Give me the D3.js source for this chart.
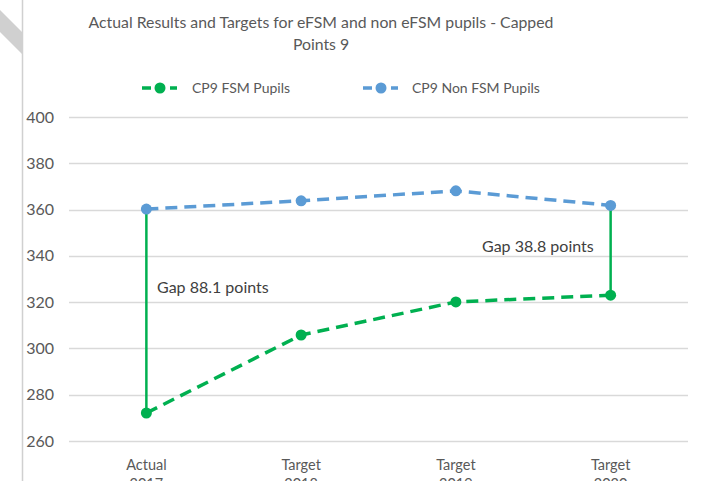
<!DOCTYPE html>
<html><head><meta charset="utf-8">
<script src="https://cdn.jsdelivr.net/npm/d3@7"></script>
<style>body{margin:0;background:#fff;}svg{display:block;font-family:Lato,"Open Sans",sans-serif;}</style>
</head><body><svg id="c" width="711" height="481"></svg>
<script>
const categories = [["Actual","2017"],["Target","2018"],["Target","2019"],["Target","2020"]];
const fsm = [272.1, 305.8, 320.1, 323.0];
const nonFsm = [360.2, 363.8, 368.1, 361.8];
const yTicks = [260,280,300,320,340,360,380,400];
const seriesNames = ["CP9 FSM Pupils","CP9 Non FSM Pupils"];
const gaps = [{i:0, label:"Gap 88.1 points"},{i:3, label:"Gap 38.8 points"}];
const colors = ["#00B050","#5B9BD5"];

const svg = d3.select("#c");
const W = 711, H = 481;
const m = {left:69, right:688, top:117, bottom:441};

// decorative frame
svg.append("polygon").attr("points","0,10 22,32 22,54 0,32").attr("fill","#d0d0d0");
svg.append("line").attr("x1",22.5).attr("x2",22.5).attr("y1",0).attr("y2",H).attr("stroke","#d0d0d0").attr("stroke-width",1.5);

const x = d3.scaleBand().domain(d3.range(categories.length)).range([m.left,m.right]);
const y = d3.scaleLinear().domain([260,400]).range([m.bottom,m.top]);
const cx = i => x(i) + x.bandwidth()/2;

// gridlines
svg.append("g").selectAll("line").data(yTicks).join("line")
  .attr("x1",m.left).attr("x2",m.right)
  .attr("y1",d=>Math.round(y(d))+0.5).attr("y2",d=>Math.round(y(d))+0.5)
  .attr("stroke","#d9d9d9").attr("stroke-width",1.3);

// y axis labels
const yAxis = d3.axisLeft(y).tickValues(yTicks).tickSize(0).tickPadding(0);
const ga = svg.append("g").attr("transform",`translate(${m.left-15},0)`).call(yAxis);
ga.select(".domain").remove();
ga.selectAll("text").attr("fill","#595959").style("font-size","16px").style("font-family","Lato,sans-serif");

// x labels
const xl = svg.append("g").selectAll("text").data(categories).join("text")
  .attr("x",(d,i)=>cx(i)).attr("y",470).attr("text-anchor","middle")
  .attr("fill","#595959").style("font-size","14.5px");
xl.each(function(d){
  const t = d3.select(this);
  t.append("tspan").attr("x",t.attr("x")).attr("dy",0).text(d[0]);
  t.append("tspan").attr("x",t.attr("x")).attr("dy",19).text(d[1]);
});

// gap lines
svg.append("g").selectAll("line").data(gaps).join("line")
  .attr("x1",d=>cx(d.i)).attr("x2",d=>cx(d.i))
  .attr("y1",d=>y(nonFsm[d.i])).attr("y2",d=>y(fsm[d.i]))
  .attr("stroke","#00B050").attr("stroke-width",2.5);

// series lines
const line = d3.line().x((d,i)=>cx(i)).y(d=>y(d));
[fsm, nonFsm].forEach((s,k)=>{
  svg.append("path").datum(s).attr("d",line).attr("fill","none")
    .attr("stroke",colors[k]).attr("stroke-width",3.5).attr("stroke-dasharray","12,7");
  svg.append("g").selectAll("circle").data(s).join("circle")
    .attr("cx",(d,i)=>cx(i)).attr("cy",d=>y(d)).attr("r",5.5).attr("fill",colors[k]);
});

// gap labels
svg.append("text").attr("x",157).attr("y",293).text(gaps[0].label)
  .attr("fill","#404040").style("font-size","16px");
svg.append("text").attr("x",482).attr("y",252).text(gaps[1].label)
  .attr("fill","#404040").style("font-size","16px");

// title
const title = svg.append("text").attr("text-anchor","middle").attr("fill","#595959").style("font-size","15.8px");
title.append("tspan").attr("x",321).attr("y",28).text("Actual Results and Targets for eFSM and non eFSM pupils - Capped");
title.append("tspan").attr("x",321).attr("y",50).text("Points 9");

// legend
const leg = [{x1:142,tx:192},{x1:363,tx:412}];
leg.forEach((l,k)=>{
  const g = svg.append("g");
  g.append("line").attr("x1",l.x1).attr("x2",l.x1+35).attr("y1",88).attr("y2",88)
    .attr("stroke",colors[k]).attr("stroke-width",3.5).attr("stroke-dasharray","9,5");
  g.append("circle").attr("cx",l.x1+18).attr("cy",88).attr("r",5.5).attr("fill",colors[k]);
  g.append("text").attr("x",l.tx).attr("y",93).text(seriesNames[k]).attr("fill","#595959").style("font-size","14px");
});
</script></body></html>
